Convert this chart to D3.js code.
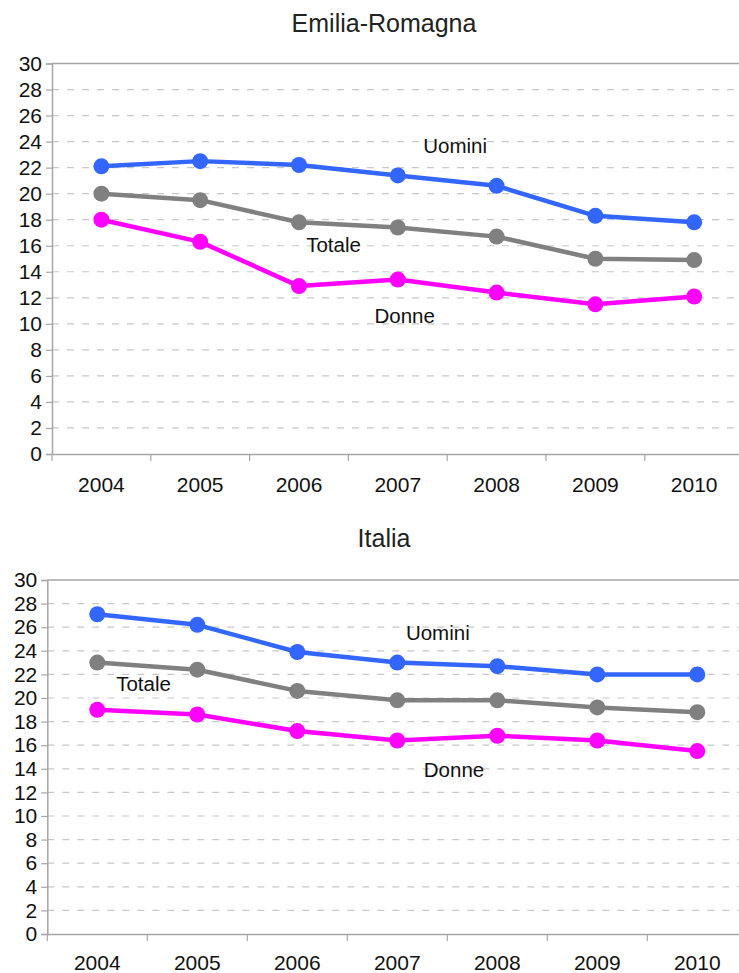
<!DOCTYPE html>
<html>
<head>
<meta charset="utf-8">
<script src="https://cdn.jsdelivr.net/npm/d3@7"></script>
<style>
  html, body { margin: 0; padding: 0; background: #fff; }
  svg { display: block; font-family: "Liberation Sans", Arial, sans-serif; }
</style>
</head>
<body>
<svg id="chart" width="739" height="973"></svg>
<script>
// ---- Data ----
const years = ["2004", "2005", "2006", "2007", "2008", "2009", "2010"];
const yTicks = [0, 2, 4, 6, 8, 10, 12, 14, 16, 18, 20, 22, 24, 26, 28, 30];

const erUomini = [22.1, 22.5, 22.2, 21.4, 20.6, 18.3, 17.8];
const erTotale = [20.0, 19.5, 17.8, 17.4, 16.7, 15.0, 14.9];
const erDonne  = [18.0, 16.3, 12.9, 13.4, 12.4, 11.5, 12.1];

const itUomini = [27.1, 26.2, 23.9, 23.0, 22.7, 22.0, 22.0];
const itTotale = [23.0, 22.4, 20.6, 19.8, 19.8, 19.2, 18.8];
const itDonne  = [19.0, 18.6, 17.2, 16.4, 16.8, 16.4, 15.5];

// label anchors: [text, category position (index), value]
const erLabels = [["Uomini", 3.58, 23.1], ["Totale", 2.35, 15.54], ["Donne", 3.07, 10.04]];
const itLabels = [["Uomini", 3.405, 24.9], ["Totale", 0.462, 20.6], ["Donne", 3.567, 13.33]];

const colors = { Uomini: "#3366ff", Totale: "#808080", Donne: "#ff00ff" };

const svg = d3.select("#chart");

function drawPanel(cfg) {
  const { title, titleY, left, top, bottom, band, series, labels, xLabelY } = cfg;
  const width = band * years.length;
  const g = svg.append("g");

  const x = d3.scaleBand().domain(years).range([left, left + width]).padding(0);
  const xc = d => left + (d + 0.5) * band;
  const y = d3.scaleLinear().domain([0, 30]).range([bottom, top]);

  // title
  svg.append("text")
    .attr("x", 384).attr("y", titleY)
    .attr("text-anchor", "middle")
    .attr("font-size", 25)
    .attr("fill", "#222")
    .text(title);

  // gridlines
  g.append("g").selectAll("line")
    .data(yTicks.filter(t => t > 0 && t < 30))
    .join("line")
    .attr("x1", left).attr("x2", 739)
    .attr("y1", d => y(d)).attr("y2", d => y(d))
    .attr("stroke", "#c8c8c8").attr("stroke-width", 1.2)
    .attr("stroke-dasharray", "7,8");

  // top border
  g.append("line")
    .attr("x1", left).attr("x2", 739)
    .attr("y1", y(30)).attr("y2", y(30))
    .attr("stroke", "#a6a6a6").attr("stroke-width", 1.5);

  // y axis
  const yAxis = d3.axisLeft(y).tickValues(yTicks).tickSize(6).tickPadding(4).tickFormat(d3.format("d"));
  const ya = g.append("g").attr("transform", `translate(${left},0)`).call(yAxis);
  ya.select(".domain").attr("stroke", "#a6a6a6").attr("stroke-width", 1.5);
  ya.selectAll(".tick line").attr("stroke", "#a6a6a6").attr("stroke-width", 1.2);
  ya.selectAll(".tick text").attr("font-size", 21).attr("fill", "#111")
    .attr("font-family", "Liberation Sans, Arial, sans-serif");

  // x axis (ticks between categories)
  const xAxis = d3.axisBottom(x).tickSize(0).tickPadding(0).tickFormat("");
  const xa = g.append("g").attr("transform", `translate(0,${bottom})`).call(xAxis);
  xa.select(".domain").attr("stroke", "#a6a6a6").attr("stroke-width", 1.5);
  g.append("g").selectAll("line")
    .data(years)
    .join("line")
    .attr("x1", d => x(d)).attr("x2", d => x(d))
    .attr("y1", bottom).attr("y2", bottom + 7)
    .attr("stroke", "#a6a6a6").attr("stroke-width", 1.2);
  g.append("g").selectAll("text")
    .data(years)
    .join("text")
    .attr("x", d => x(d) + x.bandwidth() / 2)
    .attr("y", xLabelY)
    .attr("text-anchor", "middle")
    .attr("font-size", 21)
    .attr("fill", "#111")
    .text(d => d);

  // series
  const line = d3.line().x((d, i) => x(years[i]) + x.bandwidth() / 2).y(d => y(d));
  series.forEach(s => {
    g.append("path")
      .datum(s.values)
      .attr("d", line)
      .attr("fill", "none")
      .attr("stroke", colors[s.name])
      .attr("stroke-width", 4.5)
      .attr("stroke-linejoin", "round");
    g.append("g").selectAll("circle")
      .data(s.values)
      .join("circle")
      .attr("cx", (d, i) => x(years[i]) + x.bandwidth() / 2)
      .attr("cy", d => y(d))
      .attr("r", 8)
      .attr("fill", colors[s.name]);
  });

  // labels
  g.append("g").selectAll("text")
    .data(labels)
    .join("text")
    .attr("x", d => xc(d[1]))
    .attr("y", d => y(d[2]))
    .attr("text-anchor", "middle")
    .attr("font-size", 20.5)
    .attr("fill", "#111")
    .text(d => d[0]);
}

drawPanel({
  title: "Emilia-Romagna", titleY: 31.5,
  left: 52, top: 63.5, bottom: 454, band: 98.8,
  series: [
    { name: "Totale", values: erTotale },
    { name: "Donne", values: erDonne },
    { name: "Uomini", values: erUomini }
  ],
  labels: erLabels, xLabelY: 492
});

drawPanel({
  title: "Italia", titleY: 546.5,
  left: 47.3, top: 580, bottom: 934, band: 100,
  series: [
    { name: "Totale", values: itTotale },
    { name: "Donne", values: itDonne },
    { name: "Uomini", values: itUomini }
  ],
  labels: itLabels, xLabelY: 970
});
</script>
</body>
</html>
